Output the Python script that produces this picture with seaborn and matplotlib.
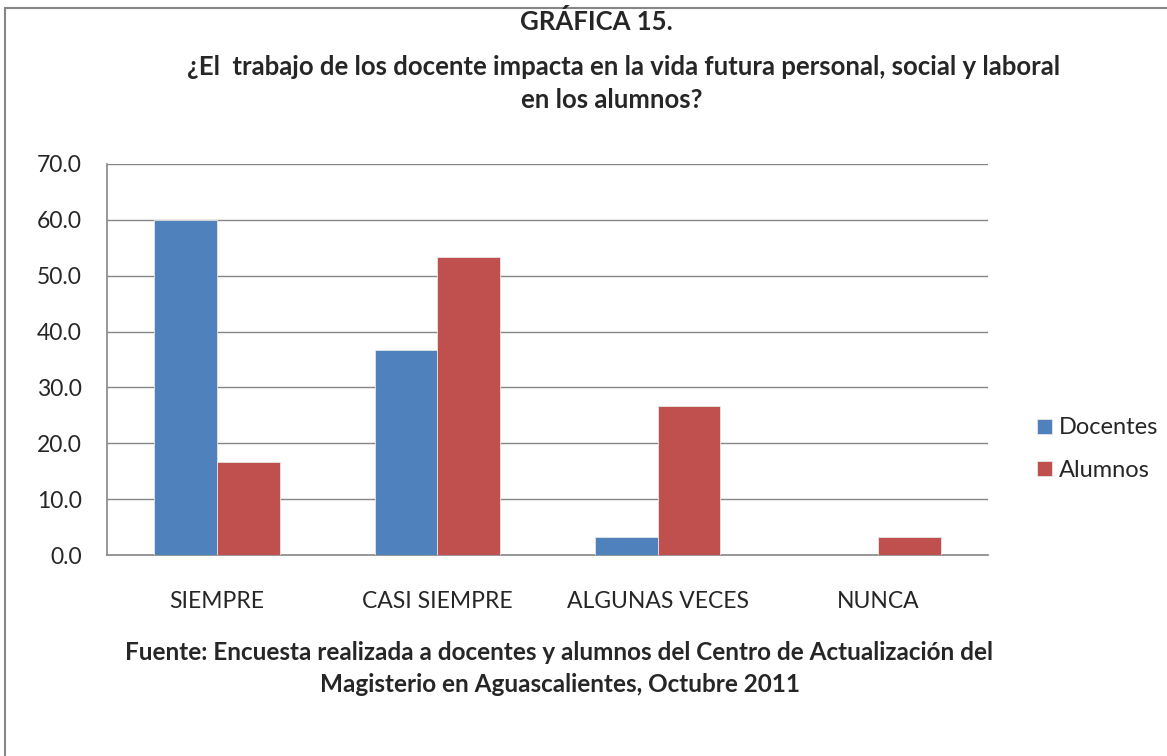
import pandas as pd
import matplotlib.pyplot as plt
from matplotlib.patches import Rectangle
import seaborn as sns

# Data
categorias = ["SIEMPRE", "CASI SIEMPRE", "ALGUNAS VECES", "NUNCA"]
docentes = [60.0, 36.7, 3.3, 0.0]
alumnos = [16.7, 53.3, 26.7, 3.3]
series = ["Docentes", "Alumnos"]
colores = ["#4F81BD", "#C0504D"]
y_ticks = [0, 10, 20, 30, 40, 50, 60, 70]

df = pd.DataFrame({
    "categoria": categorias * 2,
    "valor": docentes + alumnos,
    "serie": [series[0]] * len(categorias) + [series[1]] * len(categorias),
})

sns.set_style("white")
plt.rcParams['font.family'] = ['Lato', 'DejaVu Sans']

fig = plt.figure(figsize=(11.67, 7.56), dpi=100)
ax = fig.add_axes([107/1167, 1-555/756, (988-107)/1167, (555-164)/756])

sns.barplot(data=df, x="categoria", y="valor", hue="serie", order=categorias,
            hue_order=series, palette=colores, saturation=1, width=0.57, gap=0,
            edgecolor="#E6E6E6", linewidth=0.6, ax=ax, zorder=3)

grey = "#868686"
ax.set_ylim(0, 70)
ax.set_xlim(-0.5, len(categorias) - 0.5)
ax.set_yticks(y_ticks)
ax.set_yticklabels([f"{v:.1f}" for v in y_ticks], fontsize=16.5)
ax.yaxis.grid(True, color=grey, linewidth=1, zorder=0)
ax.set_axisbelow(True)

# category labels on minor ticks, boundary tick marks on major ticks
ax.set_xticks([i - 0.5 for i in range(len(categorias) + 1)])
ax.set_xticklabels([])
ax.set_xticks(range(len(categorias)), minor=True)
ax.set_xticklabels(categorias, minor=True, fontsize=16.5)
ax.tick_params(axis="x", which="major", length=7, color=grey, direction="out")
ax.tick_params(axis="x", which="minor", length=0, pad=26)
ax.tick_params(axis="y", length=7, color=grey, direction="out", pad=11)
ax.set_xlabel("")
ax.set_ylabel("")

for s in ["top", "right"]:
    ax.spines[s].set_visible(False)
for s in ["left", "bottom"]:
    ax.spines[s].set_color(grey)
    ax.spines[s].set_linewidth(1.2)

ax.legend(loc="center left", bbox_to_anchor=(1028/1167, 1-449/756),
          bbox_transform=fig.transFigure, frameon=False, fontsize=17,
          handlelength=0.6, handleheight=0.6, handletextpad=0.3,
          labelspacing=0.9, borderaxespad=0)

fig.text(596/1167, 1-22/756, "GRÁFICA 15.", ha="center", va="center",
         fontsize=18.5, fontweight="bold")
fig.text(624/1167, 1-67/756,
         "¿El  trabajo de los docente impacta en la vida futura personal, social y laboral",
         ha="center", va="center", fontsize=18.5, fontweight="bold")
fig.text(612/1167, 1-100/756, "en los alumnos?", ha="center", va="center",
         fontsize=18.5, fontweight="bold")

fig.text(559/1167, 1-652/756,
         "Fuente: Encuesta realizada a docentes y alumnos del Centro de Actualización del",
         ha="center", va="center", fontsize=17.5, fontweight="bold")
fig.text(560/1167, 1-685/756, "Magisterio en Aguascalientes, Octubre 2011",
         ha="center", va="center", fontsize=17.5, fontweight="bold")

# outer chart frame
fig.patches.append(Rectangle((5/1167, -0.05), 1.2, 1 - 8/756 + 0.05,
                             transform=fig.transFigure, fill=False,
                             edgecolor=grey, linewidth=1.5))

fig.savefig("out.png", dpi=100)
